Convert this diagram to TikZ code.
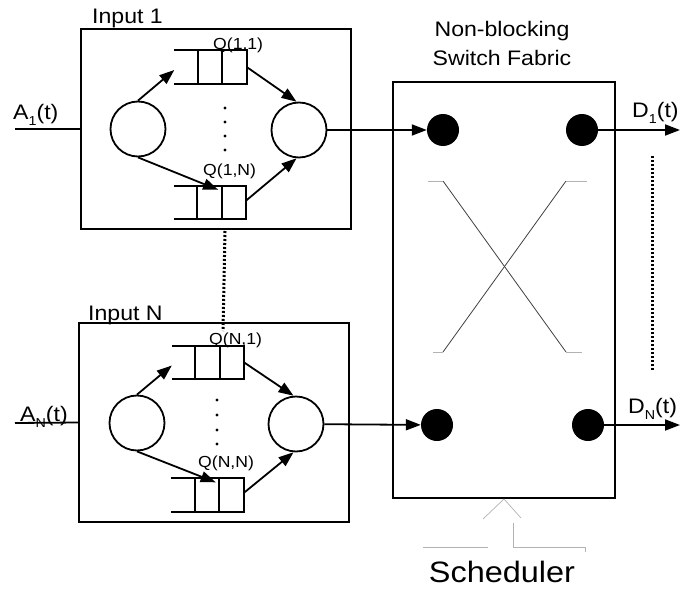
\documentclass[tikz,border=0pt]{standalone}
\usepackage{fontspec}
\setmainfont{Liberation Sans}[FakeStretch=1.1]
\usetikzlibrary{arrows.meta,calc}
\newcommand\lsub[1]{\raisebox{-0.32em}{\fontsize{13}{13}\selectfont #1}}
\begin{document}
\begin{tikzpicture}[x=1pt,y=-1pt,
  ibox/.style={draw, line width=2pt, inner sep=0, minimum width=270pt, minimum height=200pt},
  swbox/.style={draw, line width=2pt, inner sep=0, minimum width=222pt, minimum height=416pt},
  circ/.style={circle, draw, line width=1.8pt, inner sep=0, minimum size=55pt},
  qbox/.style={inner sep=0, minimum width=72pt, minimum height=33pt},
  qline/.style={line width=1.8pt},
  arr/.style={line width=1.8pt, -{Triangle[length=15pt,width=11pt]}},
  plain/.style={line width=1.8pt},
  port/.style={circle, fill=black, inner sep=0, minimum size=32pt},
  lbl/.style={font=\fontsize{21}{25}\selectfont, inner sep=0},
  qlbl/.style={font=\fontsize{16}{19}\selectfont, inner sep=0},
  xline/.style={line width=0.8pt, black!75},
  faint/.style={line width=0.7pt, black!30},
  dotline/.style={line width=3pt, dash pattern=on 2pt off 2pt}
]
\useasboundingbox (0,0) rectangle (680,594);

% boxes
\node[ibox] (in1) at (216,129) {};
\node[ibox, minimum height=199pt] (inN) at (214,422.5) {};
\node[swbox] (sw) at (504,290) {};

% circles
\node[circ] (c11) at (138,129) {};
\node[circ] (c12) at (299,130) {};
\node[circ] (cN1) at (137,423) {};
\node[circ] (cN2) at (296,424) {};

% queues
\node[qbox] (q11) at (210.5,67) {};
\node[qbox] (q1n) at (210,202.5) {};
\node[qbox] (qn1) at (208,362.5) {};
\node[qbox] (qnn) at (207.5,495) {};
\foreach \q in {q11,q1n,qn1,qnn}{
  \draw[qline] (\q.north west) -- (\q.north east) -- (\q.south east) -- (\q.south west);
  \draw[qline] ($(\q.north east)+(-24.5,0)$) -- ($(\q.south east)+(-24.5,0)$);
  \draw[qline] ($(\q.north east)+(-49,0)$) -- ($(\q.south east)+(-49,0)$);
}

% ports
\node[port] (p11) at (443,130) {};
\node[port] (p12) at (582,130) {};
\node[port] (pN1) at (437,425) {};
\node[port] (pN2) at (588,425) {};

% free ends
\coordinate (a1) at (15,129);
\coordinate (aN) at (15,423);
\coordinate (o1) at (680,130);
\coordinate (oN) at (680,425);

% connectors input 1
\draw[plain] (a1) -- (in1.west);
\draw[arr] (c11.north) -- ($(q11.west)+(0,3)$);
\draw[arr] (c11.south) -- ($(q1n.north east)+(-28,4)$);
\draw[arr] (q11.east) -- (c12.95);
\draw[arr] ($(q1n.east)+(0,-2)$) -- (c12.265);
\draw[arr] (c12) -- (p11);
\draw[arr] (p12) -- (o1);

% connectors input N
\draw[plain] (aN) -- (inN.west);
\draw[arr] (cN1.north) -- ($(qn1.west)+(0,3)$);
\draw[arr] (cN1.south) -- ($(qnn.north east)+(-28,4)$);
\draw[arr] (qn1.east) -- (cN2.95);
\draw[arr] ($(qnn.east)+(0,-2)$) -- (cN2.265);
\draw[arr] (cN2) -- (pN1);
\draw[arr] (pN2) -- (oN);

% vertical dots inside queues area
\foreach \y in {108,122,136,150} \fill (225,\y) circle[radius=1.6pt];
\foreach \y in {400,415,430,444} \fill (217,\y) circle[radius=1.6pt];

% dotted lines
\coordinate (d1a) at (225,231);
\coordinate (d1b) at (223,331);
\draw[dotline] (d1a) -- (d1b);
\coordinate (d2a) at (652,156);
\coordinate (d2b) at (652,370);
\draw[dotline] (d2a) -- (d2b);

% crossbar
\draw[xline] (443,181) -- (566,352);
\draw[xline] (566,181) -- (443,352);
\draw[faint] (428,181) -- (443,181);
\draw[faint] (566,181) -- (587,181);
\draw[faint] (433,352) -- (443,352);
\draw[faint] (566,352) -- (582,352);

% scheduler arrow (faint)
\draw[faint] (483,519) -- (sw.south) -- (521,518);
\draw[faint] (513,523) -- (513,547) -- (585,547) -- (585,552);
\draw[faint] (423,547) -- (488,547);

% labels
\node[lbl, anchor=base west] (t1) at (92,24) {Input 1};
\node[lbl, anchor=base west] (tN) at (88,320) {Input N};
\node[lbl, anchor=base west] (ta1) at (13,119) {A\lsub{1}(t)};
\node[lbl, anchor=base west] (taN) at (20,421) {A\lsub{N}(t)};
\node[lbl, anchor=base west] (td1) at (632,117) {D\lsub{1}(t)};
\node[lbl, anchor=base west] (tdN) at (628,413) {D\lsub{N}(t)};
\node[font=\fontsize{21}{29}\selectfont, align=center, inner sep=0] (swl) at (502,43) {Non-blocking\\Switch Fabric};
\node[font=\fontsize{29.5}{34}\selectfont, anchor=base, inner sep=0] (sched) at (502,582) {Scheduler};
\node[qlbl, anchor=base west] (l11) at (213,50) {Q(1,1)};
\node[qlbl, anchor=base west] (l1n) at (203,175) {Q(1,N)};
\node[qlbl, anchor=base west] (ln1) at (209,344) {Q(N,1)};
\node[qlbl, anchor=base west] (lnn) at (198,467) {Q(N,N)};
\end{tikzpicture}
\end{document}
